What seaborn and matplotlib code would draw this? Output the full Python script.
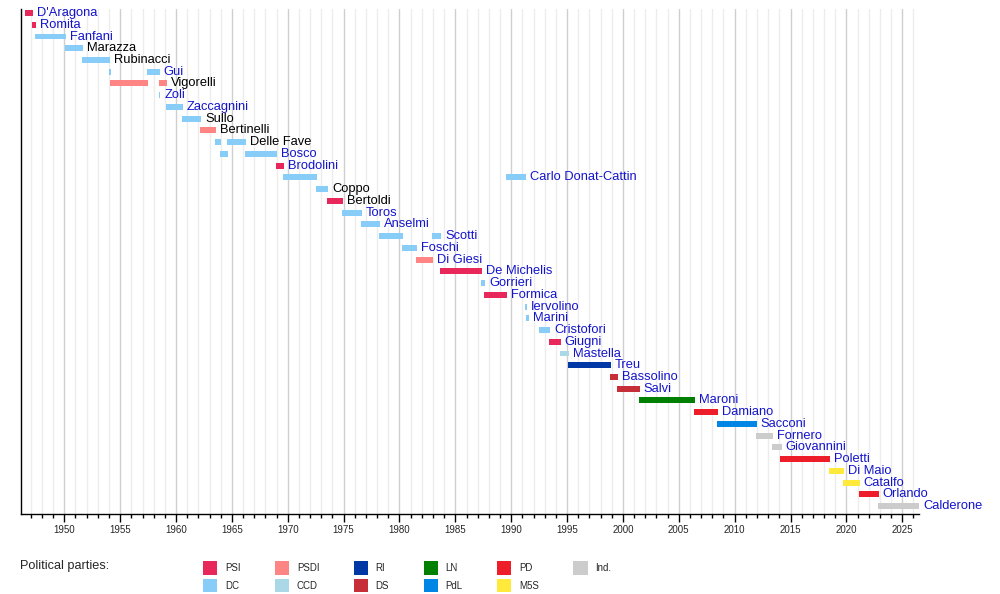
import pandas as pd
import matplotlib
matplotlib.use("Agg")
import matplotlib.pyplot as plt
from matplotlib.patches import Patch
from matplotlib.ticker import MultipleLocator
import seaborn as sns

# Ministri del Lavoro: una riga per ministro, in ordine di apparizione
ministers = ["D'Aragona", "Romita", "Fanfani", "Marazza", "Rubinacci", "Gui", "Vigorelli",
             "Zoli", "Zaccagnini", "Sullo", "Bertinelli", "Delle Fave", "Bosco", "Brodolini",
             "Carlo Donat-Cattin", "Coppo", "Bertoldi", "Toros", "Anselmi", "Scotti", "Foschi",
             "Di Giesi", "De Michelis", "Gorrieri", "Formica", "Iervolino", "Marini",
             "Cristofori", "Giugni", "Mastella", "Treu", "Bassolino", "Salvi", "Maroni",
             "Damiano", "Sacconi", "Fornero", "Giovannini", "Poletti", "Di Maio", "Catalfo",
             "Orlando", "Calderone"]
# nomi senza link (testo nero)
unlinked = ["Marazza", "Rubinacci", "Vigorelli", "Sullo", "Bertinelli", "Delle Fave",
            "Coppo", "Bertoldi"]

# mandati (un ministro puo' averne piu' di uno)
term_minister = ["D'Aragona", "Romita", "Fanfani", "Marazza", "Rubinacci", "Gui", "Gui",
                 "Vigorelli", "Vigorelli", "Zoli", "Zaccagnini", "Sullo", "Bertinelli",
                 "Delle Fave", "Delle Fave", "Bosco", "Bosco", "Brodolini",
                 "Carlo Donat-Cattin", "Carlo Donat-Cattin", "Coppo", "Bertoldi", "Toros",
                 "Anselmi", "Scotti", "Scotti", "Foschi", "Di Giesi", "De Michelis",
                 "Gorrieri", "Formica", "Iervolino", "Marini", "Cristofori", "Giugni",
                 "Mastella", "Treu", "Bassolino", "Salvi", "Maroni", "Damiano", "Sacconi",
                 "Fornero", "Giovannini", "Poletti", "Di Maio", "Catalfo", "Orlando",
                 "Calderone"]
term_start = [1946.48, 1947.11, 1947.38, 1950.06, 1951.58, 1953.97, 1957.40, 1954.09,
              1958.47, 1958.47, 1959.10, 1960.53, 1962.14, 1963.48, 1964.55, 1963.93,
              1966.16, 1968.94, 1969.56, 1989.50, 1972.51, 1973.50, 1974.84, 1976.54,
              1978.15, 1982.90, 1980.20, 1981.46, 1983.60, 1987.27, 1987.54, 1991.20,
              1991.30, 1992.47, 1993.36, 1994.34, 1995.05, 1998.81, 1999.44, 2001.40,
              2006.32, 2008.38, 2011.87, 2013.30, 2014.10, 2018.40, 2019.66, 2021.09,
              2022.80]
term_end = [1947.20, 1947.44, 1950.13, 1951.65, 1954.06, 1954.18, 1958.53, 1957.46,
            1959.16, 1958.59, 1960.60, 1962.23, 1963.57, 1964.02, 1966.25, 1964.64,
            1969.00, 1969.65, 1972.58, 1991.30, 1973.59, 1974.93, 1976.63, 1978.24,
            1980.30, 1983.70, 1981.55, 1982.98, 1987.36, 1987.63, 1989.60, 1991.39,
            1991.57, 1993.45, 1994.43, 1995.14, 1998.90, 1999.53, 2001.50, 2006.41,
            2008.47, 2011.96, 2013.39, 2014.20, 2018.50, 2019.75, 2021.18, 2022.88,
            2026.50]
term_party = ["PSI", "PSI", "DC", "DC", "DC", "DC", "DC", "PSDI", "PSDI", "DC", "DC", "DC",
              "PSDI", "DC", "DC", "DC", "DC", "PSI", "DC", "DC", "DC", "PSI", "DC", "DC",
              "DC", "DC", "DC", "PSDI", "PSI", "DC", "PSI", "DC", "DC", "DC", "PSI", "CCD",
              "RI", "DS", "DS", "LN", "PD", "PdL", "Ind.", "Ind.", "PD", "M5S", "M5S", "PD",
              "Ind."]

parties = ["PSI", "DC", "PSDI", "CCD", "RI", "DS", "LN", "PdL", "PD", "M5S", "Ind."]
party_colors = ["#e8275a", "#88cdf8", "#ff8585", "#aad8e6", "#0039a6", "#c62e38",
                "#008000", "#0087e6", "#ee1d2a", "#ffe93a", "#cccccc"]
palette = dict(zip(parties, party_colors))

terms = pd.DataFrame({"minister": term_minister, "party": term_party,
                      "start": term_start, "end": term_end})
terms["row"] = terms["minister"].map({m: i for i, m in enumerate(ministers)})

sns.set_theme(style="white")
plt.rcParams["font.family"] = ["Liberation Sans", "DejaVu Sans"]

fig = plt.figure(figsize=(10, 5.94), dpi=100)
ax = fig.add_axes([0.0205, 1 - 514 / 594, 0.8985, 504.5 / 594])

ax.barh(terms["row"], terms["end"] - terms["start"], left=terms["start"], height=0.51,
        color=terms["party"].map(palette), linewidth=0, zorder=3)

# etichette alla fine dell'ultimo mandato
label_pos = terms.groupby("minister")["end"].max()
for i, m in enumerate(ministers):
    ax.annotate(m, (label_pos[m], i), xytext=(3, 0), textcoords="offset points",
                va="center", ha="left", fontsize=9.3,
                color="black" if m in unlinked else "#1414cc", zorder=4)

ax.set_xlim(1946.08, 2026.5)
ax.set_ylim(42.67, -0.30)
ax.set_yticks([])
ax.xaxis.set_major_locator(MultipleLocator(5))
ax.xaxis.set_minor_locator(MultipleLocator(1))
ax.grid(False)
ax.grid(True, axis="x", which="minor", color="#ececec", linewidth=1, zorder=0)
ax.grid(True, axis="x", which="major", color="#cfcfcf", linewidth=1, zorder=0)
ax.set_axisbelow(True)
ax.tick_params(axis="x", which="major", length=5.5, width=1, color="black",
               direction="out", labelsize=7, pad=2.5, bottom=True)
ax.tick_params(axis="x", which="minor", length=3, width=1, color="black",
               direction="out", bottom=True)
for side in ["top", "right"]:
    ax.spines[side].set_visible(False)
for side in ["left", "bottom"]:
    ax.spines[side].set_color("black")
    ax.spines[side].set_linewidth(1)

fig.text(0.02, 1 - 566 / 594, "Political parties:", fontsize=9.2, va="center", ha="left")
handles = [Patch(facecolor=palette[p], edgecolor="none", label=p) for p in parties]
fig.legend(handles=handles, ncol=6, loc="upper left", bbox_to_anchor=(0.203, 1 - 561 / 594),
           frameon=False, fontsize=7, handlelength=1.45, handleheight=1.76,
           handletextpad=0.8, columnspacing=3.55, labelspacing=0.45, borderpad=0,
           borderaxespad=0)

fig.savefig("out.png", dpi=100)
